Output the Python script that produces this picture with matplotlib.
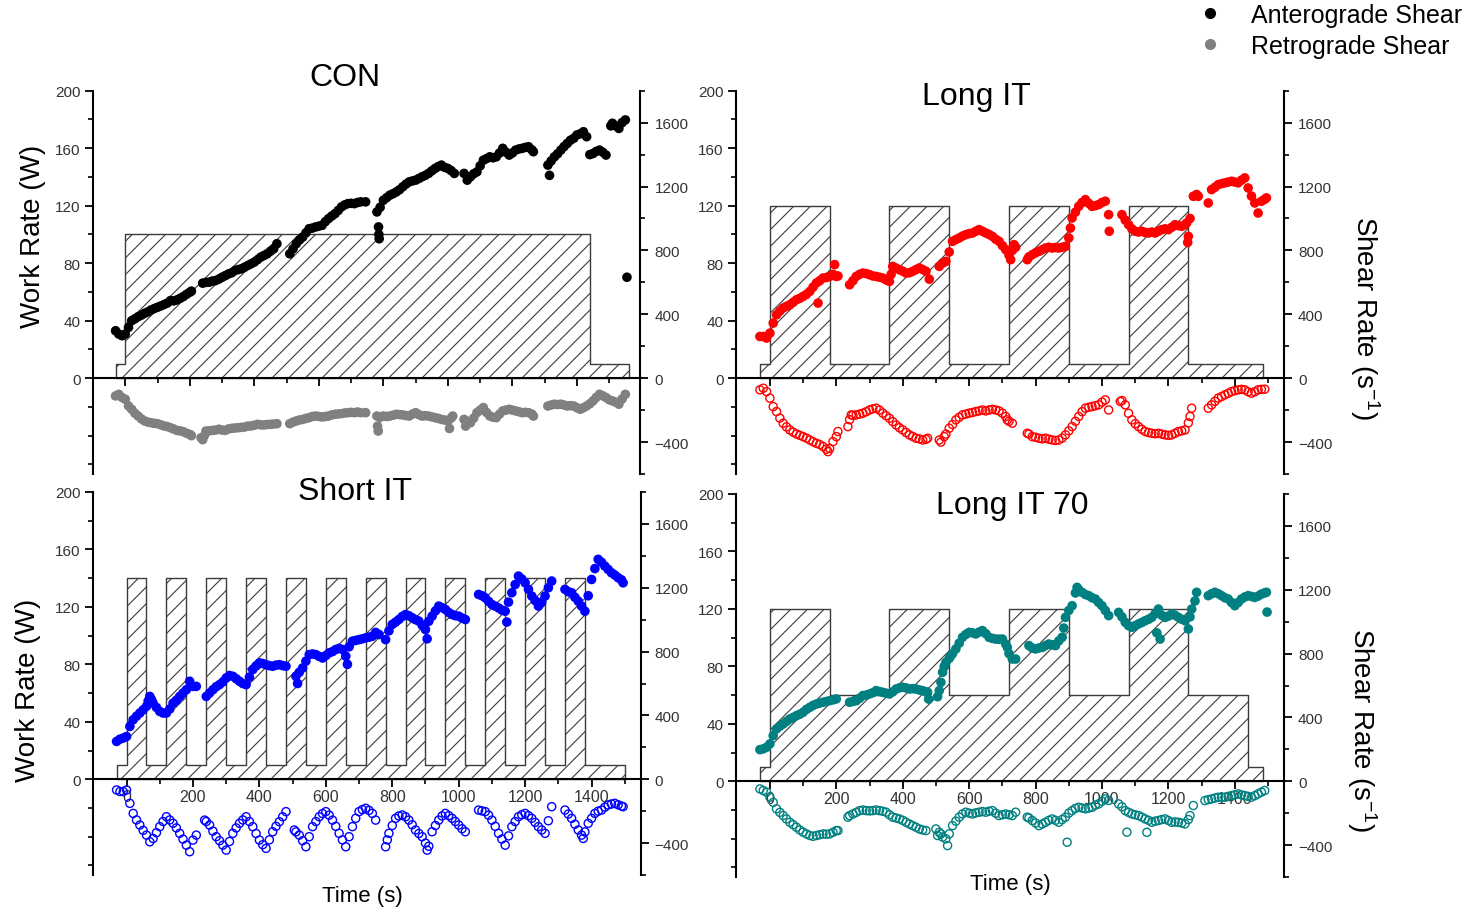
import numpy as np
import matplotlib
matplotlib.use('Agg')
import matplotlib.pyplot as plt
from matplotlib.lines import Line2D
from matplotlib.ticker import FixedLocator

plt.rcParams['font.family'] = ['Liberation Sans', 'DejaVu Sans']
plt.rcParams['mathtext.default'] = 'regular'
plt.rcParams['hatch.linewidth'] = 0.8
plt.rcParams['hatch.color'] = '#3c3c3c'

# ---------------- data ----------------
# work-rate step profiles (edges in s, level in W for each interval)
con_edges = [-30, 0, 1440, 1560]
con_levels = [10, 100, 10]
longit_edges = [-30, 0, 180, 360, 540, 720, 900, 1080, 1260, 1485]
longit_levels = [10, 120, 10, 120, 10, 120, 10, 120, 10]
shortit_edges = [-30, 0, 60, 120, 180, 240, 300, 360, 420, 480, 540, 600, 660, 720, 780,
                 840, 900, 960, 1020, 1080, 1140, 1200, 1260, 1320, 1380, 1500]
shortit_levels = [10, 140, 10, 140, 10, 140, 10, 140, 10, 140, 10, 140, 10, 140, 10,
                  140, 10, 140, 10, 140, 10, 140, 10, 140, 10]
long70_edges = [-30, 0, 180, 360, 540, 720, 900, 1080, 1260, 1440, 1485]
long70_levels = [10, 120, 60, 120, 60, 120, 60, 120, 60, 10]

# shear rate (s^-1) samples: [time, value]
con_ante = [[-30, 297], [-20, 276], [-10, 266], [0, 276], [10, 318], [20, 360], [30, 372], [40, 385], [50, 395], [60, 406], [70, 415], [80, 427], [90, 436], [100, 444], [110, 452], [120, 461], [130, 470], [140, 486], [150, 484], [160, 490], [170, 500], [180, 511], [190, 525], [200, 538], [205, 545],
            [240, 595], [250, 600], [260, 601], [270, 608], [280, 611], [290, 620], [300, 632], [310, 642], [320, 653], [330, 660], [340, 674], [350, 680], [360, 685], [370, 695], [380, 706], [390, 716], [400, 727], [410, 742], [420, 758], [430, 768], [440, 779], [450, 795], [460, 810], [470, 842],
            [510, 779], [520, 810], [530, 842], [540, 865], [550, 884], [560, 910], [570, 936], [580, 940], [590, 947], [600, 952], [610, 957], [620, 980], [630, 999], [640, 1015], [650, 1030], [660, 1050], [670, 1072], [680, 1085], [690, 1093], [700, 1095], [710, 1093], [720, 1100], [730, 1104], [745, 1104],
            [780, 1041], [785, 947], [786, 900], [787, 873], [790, 1070], [800, 1114], [810, 1130], [820, 1146], [830, 1155], [840, 1166], [850, 1180], [860, 1198], [870, 1215], [880, 1229], [890, 1235], [900, 1240], [910, 1250], [920, 1261], [930, 1270], [940, 1282], [950, 1298], [960, 1313], [970, 1325], [980, 1334], [990, 1320], [1000, 1313], [1010, 1300], [1020, 1282],
            [1050, 1282], [1060, 1240], [1070, 1261], [1080, 1280], [1090, 1292], [1100, 1330], [1110, 1365], [1120, 1375], [1130, 1386], [1140, 1380], [1150, 1386], [1160, 1410], [1170, 1439], [1180, 1415], [1190, 1397], [1200, 1410], [1210, 1428], [1220, 1435], [1230, 1439], [1240, 1445], [1250, 1449], [1260, 1430], [1265, 1418],
            [1310, 1334], [1315, 1270], [1320, 1360], [1330, 1386], [1340, 1405], [1350, 1428], [1360, 1450], [1370, 1470], [1380, 1490], [1390, 1502], [1400, 1523], [1410, 1530], [1420, 1543], [1430, 1512], [1440, 1400], [1450, 1407], [1460, 1420], [1470, 1428], [1480, 1415], [1490, 1397],
            [1505, 1580], [1510, 1596], [1520, 1580], [1530, 1564], [1540, 1600], [1550, 1617], [1555, 632]]
con_retro = [[-30, -111], [-20, -101], [-10, -121], [0, -132], [10, -174], [20, -195], [30, -220], [40, -237], [50, -255], [60, -268], [70, -275], [80, -279], [90, -283], [100, -285], [110, -292], [120, -299], [130, -303], [140, -310], [150, -318], [160, -327], [170, -330], [180, -335], [190, -345], [200, -352], [205, -360],
             [235, -373], [240, -385], [245, -360], [250, -331], [260, -330], [270, -327], [280, -325], [290, -320], [300, -325], [310, -327], [320, -318], [330, -314], [340, -312], [350, -310], [360, -308], [370, -306], [380, -300], [390, -299], [400, -295], [410, -289], [420, -292], [430, -293], [440, -290], [450, -289], [460, -287], [470, -285],
             [510, -285], [520, -275], [530, -268], [540, -262], [550, -258], [560, -252], [570, -247], [580, -240], [590, -237], [600, -240], [610, -243], [620, -240], [630, -237], [640, -230], [650, -226], [660, -224], [670, -222], [680, -218], [690, -216], [700, -214], [710, -216], [720, -212], [730, -216], [745, -216],
             [780, -237], [782, -300], [784, -331], [790, -245], [800, -237], [810, -240], [820, -237], [830, -232], [840, -226], [850, -228], [860, -230], [870, -234], [880, -237], [890, -225], [900, -216], [910, -228], [920, -237], [930, -235], [940, -237], [950, -242], [960, -247], [970, -252], [980, -258], [990, -262], [1000, -268], [1005, -315], [1010, -250], [1015, -237],
             [1050, -258], [1055, -300], [1060, -270], [1070, -279], [1080, -250], [1090, -216], [1100, -200], [1110, -184], [1120, -215], [1130, -237], [1140, -245], [1150, -247], [1160, -225], [1170, -205], [1180, -200], [1190, -195], [1200, -200], [1210, -205], [1220, -210], [1230, -216], [1240, -214], [1250, -216], [1260, -225], [1265, -237],
             [1310, -174], [1320, -168], [1330, -163], [1340, -165], [1350, -163], [1360, -168], [1370, -174], [1380, -172], [1390, -174], [1400, -185], [1410, -195], [1420, -185], [1430, -174], [1440, -160], [1450, -142], [1460, -120], [1470, -101], [1480, -110], [1490, -121], [1500, -135], [1510, -142], [1520, -150], [1530, -163], [1540, -130], [1550, -101]]

longit_ante = [[-30, 261], [-20, 261], [-10, 251], [0, 282], [10, 345], [20, 397], [30, 420], [40, 439], [50, 450], [60, 460], [70, 475], [80, 491], [90, 500], [100, 512], [110, 525], [120, 543], [130, 570], [140, 596], [145, 470], [150, 610], [160, 627], [170, 630], [180, 637], [190, 650], [195, 711], [200, 637], [205, 640],
               [240, 585], [250, 610], [260, 637], [270, 650], [280, 658], [290, 655], [300, 648], [310, 640], [320, 637], [330, 632], [340, 627], [350, 615], [360, 606], [365, 650], [370, 700], [380, 690], [390, 679], [400, 670], [410, 658], [420, 660], [430, 669], [440, 680], [450, 690], [460, 680], [470, 669], [480, 620],
               [510, 700], [520, 720], [530, 731], [540, 790], [550, 857], [560, 868], [570, 878], [580, 890], [590, 899], [600, 905], [610, 909], [620, 920], [630, 930], [640, 920], [650, 909], [660, 900], [670, 888], [680, 870], [690, 857], [700, 830], [710, 805], [720, 770], [725, 742], [730, 800], [735, 836], [740, 820],
               [775, 742], [780, 760], [790, 773], [800, 785], [810, 794], [820, 805], [830, 815], [840, 820], [850, 815], [860, 818], [870, 815], [880, 820], [890, 825], [900, 878], [905, 940], [910, 1003], [920, 1040], [930, 1076], [940, 1100], [950, 1118], [960, 1095], [970, 1076], [980, 1080], [990, 1087], [1000, 1100], [1010, 1108], [1020, 1024], [1022, 920],
               [1060, 1024], [1070, 990], [1080, 961], [1090, 935], [1100, 920], [1110, 915], [1120, 920], [1130, 912], [1140, 909], [1150, 915], [1160, 909], [1170, 920], [1180, 930], [1190, 935], [1200, 930], [1210, 945], [1220, 961], [1230, 955], [1240, 951], [1250, 960], [1255, 972], [1258, 850], [1260, 888], [1265, 1000],
               [1275, 1139], [1285, 1150], [1290, 1139], [1320, 1097], [1330, 1181], [1340, 1195], [1350, 1212], [1360, 1218], [1370, 1223], [1380, 1228], [1390, 1233], [1400, 1228], [1410, 1223], [1420, 1240], [1430, 1254], [1440, 1191], [1450, 1140], [1460, 1097], [1470, 1034], [1480, 1108], [1490, 1120], [1495, 1129]]
longit_retro = [[-30, -73], [-20, -63], [-10, -84], [0, -125], [10, -178], [20, -209], [30, -250], [40, -282], [50, -305], [60, -324], [70, -338], [80, -349], [90, -358], [100, -366], [110, -375], [120, -387], [130, -398], [140, -408], [150, -415], [160, -428], [170, -445], [175, -460], [180, -440], [190, -397], [200, -366], [205, -334],
                [235, -303], [240, -260], [245, -230], [250, -232], [260, -230], [270, -225], [280, -219], [290, -210], [300, -199], [310, -192], [320, -188], [330, -200], [340, -219], [350, -235], [360, -251], [370, -272], [380, -293], [390, -310], [400, -324], [410, -340], [420, -355], [430, -365], [440, -376], [450, -380], [460, -387], [470, -383], [475, -376],
                [510, -387], [515, -400], [525, -366], [530, -350], [540, -313], [550, -290], [560, -261], [570, -245], [580, -230], [590, -225], [600, -219], [610, -215], [620, -209], [630, -205], [640, -199], [650, -205], [660, -199], [670, -195], [680, -199], [690, -205], [700, -219], [710, -240], [715, -261], [720, -270], [730, -282],
                [775, -345], [780, -350], [790, -366], [800, -370], [810, -376], [820, -380], [830, -376], [840, -382], [850, -387], [860, -390], [870, -387], [880, -375], [890, -355], [900, -330], [910, -303], [920, -270], [930, -240], [940, -210], [950, -188], [960, -182], [970, -178], [980, -172], [990, -167], [1000, -150], [1010, -136], [1020, -199],
                [1055, -146], [1060, -140], [1070, -167], [1080, -220], [1090, -261], [1100, -285], [1110, -303], [1120, -320], [1130, -334], [1140, -340], [1150, -345], [1160, -348], [1170, -345], [1180, -350], [1190, -355], [1200, -358], [1210, -355], [1220, -345], [1230, -334], [1240, -330], [1250, -324], [1260, -280], [1265, -240], [1270, -188],
                [1320, -188], [1330, -167], [1340, -145], [1350, -125], [1360, -115], [1370, -104], [1380, -95], [1390, -84], [1400, -78], [1410, -73], [1420, -70], [1430, -73], [1440, -85], [1450, -94], [1460, -85], [1470, -73], [1480, -70], [1490, -69]]

shortit_ante = [[-30, 237], [-20, 251], [-10, 258], [0, 268], [10, 331], [20, 373], [30, 395], [40, 415], [50, 435], [60, 457], [65, 490], [70, 519], [75, 500], [80, 477], [90, 450], [100, 425], [110, 415], [120, 415], [130, 440], [140, 477], [150, 495], [160, 519], [170, 540], [180, 561], [190, 614], [200, 582], [210, 582],
                [240, 519], [250, 540], [260, 561], [270, 580], [280, 593], [290, 610], [300, 635], [310, 650], [320, 645], [330, 630], [340, 614], [350, 600], [360, 593], [370, 640], [380, 687], [390, 710], [400, 729], [410, 725], [420, 718], [430, 712], [440, 708], [450, 715], [460, 718], [470, 712], [480, 708],
                [510, 645], [515, 600], [520, 670], [530, 697], [540, 740], [550, 781], [560, 785], [570, 781], [580, 770], [590, 760], [600, 775], [610, 792], [620, 800], [630, 813], [640, 820], [650, 813], [660, 771], [665, 720], [670, 830], [680, 865], [690, 870], [700, 875], [710, 880], [720, 886], [730, 890], [740, 896], [750, 920], [760, 907],
                [780, 875], [790, 930], [800, 970], [810, 985], [820, 1001], [830, 1020], [840, 1032], [850, 1025], [860, 1012], [870, 1000], [880, 991], [890, 965], [900, 938], [905, 880], [910, 990], [920, 1022], [930, 1055], [940, 1085], [950, 1075], [960, 1064], [970, 1045], [980, 1032], [990, 1025], [1000, 1022], [1010, 1010], [1020, 1001],
                [1060, 1158], [1070, 1150], [1080, 1137], [1090, 1115], [1100, 1095], [1110, 1085], [1120, 1074], [1130, 1060], [1140, 1053], [1145, 985], [1150, 1110], [1160, 1169], [1170, 1220], [1180, 1273], [1190, 1255], [1200, 1231], [1210, 1190], [1220, 1148], [1230, 1120], [1240, 1085], [1250, 1110], [1260, 1148], [1270, 1200], [1280, 1242],
                [1320, 1190], [1330, 1175], [1340, 1169], [1350, 1140], [1360, 1116], [1370, 1085], [1380, 1053], [1390, 1150], [1400, 1252], [1410, 1320], [1420, 1378], [1430, 1360], [1440, 1336], [1450, 1315], [1460, 1294], [1470, 1280], [1480, 1263], [1490, 1250], [1495, 1231]]
shortit_retro = [[-30, -67], [-20, -77], [-10, -77], [0, -67], [10, -151], [20, -214], [30, -255], [40, -287], [50, -320], [60, -350], [70, -392], [80, -371], [90, -335], [100, -297], [110, -265], [120, -235], [130, -255], [140, -276], [150, -305], [160, -339], [170, -375], [180, -413], [190, -454], [200, -381], [210, -350],
                 [235, -256], [240, -265], [250, -287], [260, -325], [270, -360], [280, -385], [290, -413], [300, -444], [310, -390], [320, -339], [330, -305], [340, -276], [350, -255], [360, -235], [370, -265], [380, -297], [390, -340], [400, -381], [410, -410], [420, -433], [430, -380], [440, -329], [450, -295], [460, -266], [470, -235], [480, -203],
                 [505, -318], [510, -330], [520, -350], [530, -385], [540, -423], [550, -360], [560, -297], [570, -265], [580, -235], [590, -215], [600, -203], [610, -225], [620, -256], [630, -295], [640, -339], [650, -380], [660, -423], [670, -360], [680, -297], [690, -245], [700, -203], [710, -190], [720, -182], [730, -195], [740, -214], [750, -256],
                 [780, -423], [785, -380], [790, -339], [800, -290], [810, -245], [820, -230], [830, -224], [840, -235], [850, -256], [860, -285], [870, -318], [880, -340], [890, -360], [900, -400], [905, -444], [910, -420], [920, -329], [930, -290], [940, -256], [950, -230], [960, -214], [970, -228], [980, -245], [990, -265], [1000, -287], [1010, -310], [1020, -329],
                 [1060, -193], [1070, -198], [1080, -203], [1090, -225], [1100, -256], [1110, -295], [1120, -339], [1130, -375], [1140, -413], [1150, -355], [1160, -297], [1170, -265], [1180, -235], [1190, -222], [1200, -214], [1210, -228], [1220, -245], [1230, -270], [1240, -297], [1250, -318], [1260, -339], [1270, -260], [1280, -172],
                 [1320, -193], [1330, -218], [1340, -245], [1350, -282], [1360, -318], [1370, -350], [1375, -371], [1380, -330], [1390, -276], [1400, -245], [1410, -214], [1420, -200], [1430, -193], [1440, -175], [1450, -161], [1460, -155], [1470, -151], [1480, -160], [1490, -168], [1495, -172]]

long70_ante = [[-30, 198], [-20, 203], [-10, 213], [0, 234], [10, 286], [20, 328], [30, 345], [40, 359], [50, 375], [60, 390], [70, 400], [80, 411], [90, 420], [100, 432], [110, 450], [120, 463], [130, 475], [140, 484], [150, 490], [160, 495], [170, 500], [180, 505], [190, 510], [200, 516],
               [240, 495], [250, 500], [260, 505], [270, 520], [280, 537], [290, 540], [300, 547], [310, 555], [320, 568], [330, 562], [340, 557], [350, 552], [360, 547], [370, 560], [380, 578], [390, 585], [400, 589], [410, 585], [420, 578], [430, 580], [440, 578], [450, 572], [460, 568], [470, 560], [475, 557], [478, 515],
               [505, 530], [510, 568], [515, 620], [520, 683], [525, 720], [530, 745], [540, 770], [545, 787], [550, 800], [560, 829], [570, 865], [580, 902], [590, 920], [600, 933], [610, 930], [620, 923], [630, 935], [640, 944], [650, 925], [660, 902], [670, 895], [680, 891], [690, 890], [700, 891], [710, 860], [715, 839], [720, 800], [730, 766], [740, 766],
               [780, 850], [790, 835], [800, 829], [810, 835], [820, 839], [830, 850], [840, 860], [850, 855], [860, 850], [870, 880], [880, 902], [885, 960], [890, 1027], [900, 1070], [910, 1100], [920, 1180], [925, 1215], [930, 1200], [940, 1184], [950, 1170], [960, 1163], [970, 1150], [980, 1142], [990, 1120], [1000, 1100], [1010, 1070], [1020, 1038],
               [1050, 1058], [1060, 1030], [1070, 996], [1080, 975], [1090, 965], [1100, 975], [1110, 986], [1120, 995], [1130, 1006], [1140, 1015], [1150, 1027], [1160, 1050], [1165, 930], [1170, 1079], [1175, 891], [1180, 1040], [1190, 1027], [1200, 1035], [1210, 1048], [1220, 1040], [1230, 1027], [1240, 1015], [1250, 1006], [1260, 954], [1265, 1030], [1270, 1079], [1280, 1130], [1285, 1184],
               [1320, 1163], [1330, 1175], [1340, 1184], [1350, 1175], [1360, 1163], [1370, 1150], [1380, 1142], [1390, 1120], [1400, 1100], [1410, 1120], [1420, 1142], [1430, 1155], [1440, 1163], [1450, 1158], [1460, 1152], [1470, 1160], [1480, 1173], [1490, 1180], [1495, 1184], [1497, 1060]]
long70_retro = [[-30, -48], [-20, -58], [-10, -69], [0, -100], [10, -132], [20, -173], [30, -195], [40, -215], [50, -236], [60, -257], [70, -272], [80, -288], [90, -305], [100, -319], [110, -330], [120, -340], [130, -345], [140, -340], [150, -335], [160, -330], [170, -332], [180, -330], [190, -320], [200, -309], [205, -309],
                [235, -225], [240, -215], [250, -205], [260, -195], [270, -184], [280, -180], [290, -184], [300, -186], [310, -184], [320, -180], [330, -184], [340, -188], [350, -194], [360, -210], [370, -225], [380, -230], [390, -236], [400, -245], [410, -257], [420, -268], [430, -278], [440, -288], [450, -299], [460, -305], [470, -309],
                [500, -299], [505, -340], [510, -320], [515, -330], [520, -350], [530, -361], [535, -403], [540, -330], [550, -278], [560, -250], [570, -225], [580, -205], [590, -194], [600, -200], [610, -205], [620, -198], [630, -194], [640, -190], [650, -194], [660, -188], [670, -184], [680, -200], [690, -215], [700, -210], [710, -205], [720, -210], [730, -215], [740, -194],
                [775, -225], [780, -230], [790, -246], [800, -262], [810, -278], [820, -268], [830, -257], [840, -245], [850, -236], [860, -245], [870, -257], [880, -240], [890, -225], [895, -382], [900, -200], [910, -184], [920, -170], [930, -163], [940, -168], [950, -173], [960, -168], [970, -163], [980, -150], [990, -142], [1000, -125], [1010, -111], [1020, -120],
                [1050, -142], [1060, -160], [1070, -184], [1075, -319], [1080, -195], [1090, -205], [1100, -210], [1110, -215], [1120, -225], [1130, -236], [1135, -320], [1140, -245], [1150, -257], [1160, -250], [1170, -246], [1180, -240], [1190, -236], [1200, -246], [1210, -257], [1220, -255], [1230, -257], [1240, -262], [1250, -267], [1260, -240], [1265, -215], [1275, -152],
                [1310, -121], [1320, -115], [1330, -111], [1340, -105], [1350, -100], [1360, -100], [1370, -100], [1380, -95], [1390, -90], [1400, -85], [1410, -79], [1420, -85], [1430, -90], [1440, -95], [1450, -100], [1460, -90], [1470, -79], [1480, -68], [1490, -58]]

titles = ['CON', 'Long IT', 'Short IT', 'Long IT 70']
legend_labels = ['Anterograde Shear', 'Retrograde Shear']
wr_ticks = [0, 40, 80, 120, 160, 200]
sr_ticks = [-400, 0, 400, 800, 1200, 1600]
time_ticks = [0, 200, 400, 600, 800, 1000, 1200, 1400]

# ---------------- drawing ----------------
W, H = 1470, 912
fig = plt.figure(figsize=(W / 100, H / 100), dpi=100)
TICK_C = '#333333'


def px_rect(x0, y0, x1, y1):
    return [x0 / W, 1 - y1 / H, (x1 - x0) / W, (y1 - y0) / H]


def panel(rect, xlim, edges, levels, ante, retro, ca, cr, open_retro, xlabels):
    ax = fig.add_axes(rect)
    ax.set_xlim(*xlim)
    ax.set_ylim(-200 / 3, 200)
    e = np.array(edges, float)
    lv = np.array(list(levels) + [levels[-1]], float)
    ax.fill_between(e, lv, 0, step='post', facecolor='white', edgecolor='#3c3c3c',
                    hatch='//', linewidth=1.0, zorder=1)
    for s in ['top', 'right']:
        ax.spines[s].set_visible(False)
    ax.spines['bottom'].set_position(('data', 0))
    ax.spines['bottom'].set_linewidth(1.5)
    ax.spines['left'].set_linewidth(1.5)
    ax.yaxis.set_major_locator(FixedLocator(wr_ticks))
    ax.yaxis.set_minor_locator(FixedLocator([-60, -40, -20, 20, 60, 100, 140, 180]))
    ax.xaxis.set_major_locator(FixedLocator(time_ticks))
    ax.xaxis.set_minor_locator(FixedLocator(list(range(100, 1600, 200))))
    ax.tick_params(axis='both', which='major', length=6, width=1.3, direction='out',
                   labelsize=11, labelcolor=TICK_C, pad=2)
    ax.tick_params(axis='both', which='minor', length=3.5, width=1.2, direction='out')
    ax.tick_params(axis='x', labelbottom=xlabels, pad=1, labelsize=11.5)
    ax.tick_params(axis='y', pad=3)

    ax2 = ax.twinx()
    ax2.set_ylim(-600, 1800)
    for s in ['top', 'left', 'bottom']:
        ax2.spines[s].set_visible(False)
    ax2.spines['right'].set_linewidth(1.5)
    ax2.yaxis.set_major_locator(FixedLocator(sr_ticks))
    ax2.yaxis.set_minor_locator(FixedLocator([-600, -200, 200, 600, 1000, 1400, 1800]))
    ax2.tick_params(axis='y', which='major', length=6, width=1.3, direction='out',
                    labelsize=11, labelcolor=TICK_C, pad=4)
    ax2.tick_params(axis='y', which='minor', length=3.5, width=1.2, direction='out')

    a = np.array(ante, float)
    r = np.array(retro, float)
    ax2.scatter(a[:, 0], a[:, 1], s=48, color=ca, edgecolors='none', zorder=3)
    if open_retro:
        ax2.scatter(r[:, 0], r[:, 1], s=34, facecolors='none', edgecolors=cr,
                    linewidths=1.0, zorder=3)
    else:
        ax2.scatter(r[:, 0], r[:, 1], s=48, color=cr, edgecolors='none', zorder=3)
    return ax, ax2


panel(px_rect(93, 91.7, 640.5, 475), (-100, 1597), con_edges, con_levels,
      con_ante, con_retro, '#000000', '#808080', False, False)
panel(px_rect(736, 91.7, 1284, 475), (-102, 1548), longit_edges, longit_levels,
      longit_ante, longit_retro, '#ff0000', '#ff0000', True, False)
panel(px_rect(93, 493, 640.7, 876), (-101, 1548), shortit_edges, shortit_levels,
      shortit_ante, shortit_retro, '#0000ff', '#0000ff', True, True)
panel(px_rect(736, 495, 1284, 878), (-102, 1548), long70_edges, long70_levels,
      long70_ante, long70_retro, '#008080', '#008080', True, True)

# titles
for txt, (x, y) in zip(titles, [(345, 78), (976, 97), (355, 492), (1012, 506)]):
    fig.text(x / W, 1 - y / H, txt, ha='center', va='center', fontsize=23, color='black')

# axis labels
for (x, y) in [(33, 236), (28, 690)]:
    fig.text(x / W, 1 - y / H, 'Work Rate (W)', rotation=90, ha='center', va='center', fontsize=20)
for (x, y) in [(1365, 318), (1362, 730)]:
    fig.text(x / W, 1 - y / H, 'Shear Rate (s$^{-1}$)', rotation=270, ha='center', va='center', fontsize=20)
for (x, y) in [(362, 897), (1010, 885)]:
    fig.text(x / W, 1 - y / H, 'Time (s)', ha='center', va='center', fontsize=16)

# legend
handles = [Line2D([], [], ls='', marker='o', ms=7, color='#000000'),
           Line2D([], [], ls='', marker='o', ms=7, color='#808080')]
fig.legend(handles, legend_labels, loc='upper left', bbox_to_anchor=(1197 / W, 1 - 4 / H),
           frameon=False, fontsize=18, handlelength=1.0, handletextpad=1.15,
           labelspacing=0.28, borderpad=0, borderaxespad=0)

fig.savefig('out.png', dpi=100, facecolor='white')
